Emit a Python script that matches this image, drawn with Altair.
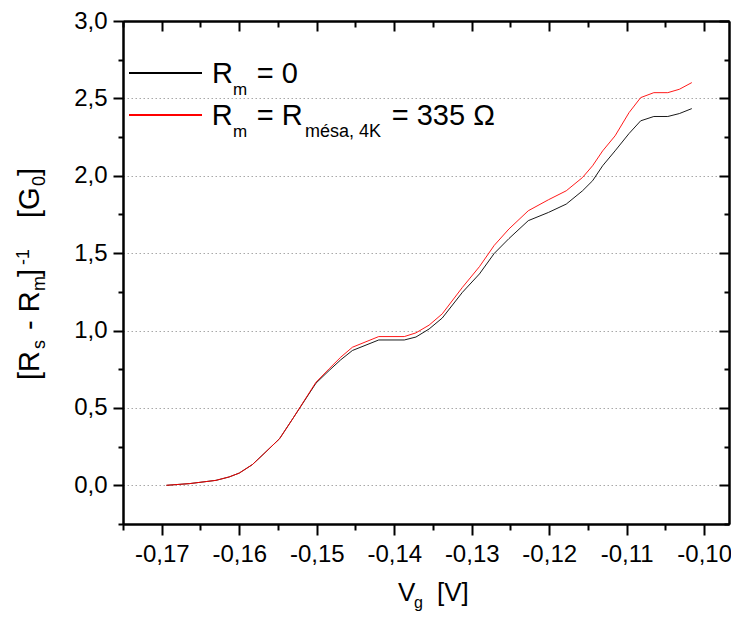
import altair as alt
import pandas as pd

# ---------------- data ----------------
vg = [-0.1694, -0.1664, -0.1630, -0.1613, -0.1600, -0.1583, -0.1568, -0.1548,
      -0.1531, -0.1516, -0.1501, -0.1484, -0.1469, -0.1454, -0.1420, -0.1387,
      -0.1372, -0.1355, -0.1338, -0.1312, -0.1290, -0.1271, -0.1252, -0.1227,
      -0.1201, -0.1178, -0.1157, -0.1144, -0.1131, -0.1115, -0.1097, -0.1082,
      -0.1065, -0.1047, -0.1032, -0.1016]

g_rm0 = [0.000, 0.011, 0.032, 0.054, 0.079, 0.134, 0.205, 0.301, 0.430, 0.545,
         0.660, 0.742, 0.811, 0.871, 0.939, 0.939, 0.958, 1.010, 1.081, 1.247,
         1.366, 1.498, 1.594, 1.710, 1.763, 1.817, 1.903, 1.968, 2.065, 2.161,
         2.273, 2.355, 2.383, 2.383, 2.402, 2.434]

g_rmesa = [0.000, 0.011, 0.032, 0.054, 0.079, 0.134, 0.205, 0.301, 0.430, 0.548,
           0.666, 0.753, 0.828, 0.892, 0.961, 0.961, 0.985, 1.035, 1.108, 1.279,
           1.413, 1.550, 1.656, 1.774, 1.845, 1.903, 1.989, 2.065, 2.161, 2.258,
           2.408, 2.505, 2.537, 2.537, 2.559, 2.602]

x_major = [-0.17, -0.16, -0.15, -0.14, -0.13, -0.12, -0.11, -0.10]
x_minor = [-0.175, -0.165, -0.155, -0.145, -0.135, -0.125, -0.115, -0.105]
y_major = [0.0, 0.5, 1.0, 1.5, 2.0, 2.5, 3.0]
y_minor = [-0.25, 0.25, 0.75, 1.25, 1.75, 2.25, 2.75]

x_domain = [-0.175, -0.0968]
y_domain = [-0.25, 3.0]

# ---------------- layout / style ----------------
FONT = "Liberation Sans"
PAD_L, PAD_T, PAD_R, PAD_B = 115, 13, 2, 88
W, H = 606, 503
OX, OY = 8 + PAD_L, 8 + PAD_T          # page position of the plot origin

df_black = pd.DataFrame({"vg": vg, "g": g_rm0})
df_red = pd.DataFrame({"vg": vg, "g": g_rmesa})

xs = alt.Scale(domain=x_domain, nice=False, zero=False)
ys = alt.Scale(domain=y_domain, nice=False, zero=False)

X_LABEL = "(datum.value < 0 ? '-' : '') + replace(format(abs(datum.value), '.2f'), '.', ',')"
Y_LABEL = "replace(format(datum.value, '.1f'), '.', ',')"


def mk_axis(orient, values, size, labels=False, grid=False, inward=False,
            label_expr="", pad=6):
    kw = dict(orient=orient, values=values, title=None, labels=labels, grid=grid,
              domain=True, domainColor="black", domainWidth=2,
              ticks=True, tickColor="black", tickWidth=2)
    if inward:
        kw["tickSize"] = alt.ExprRef(expr=str(-size))
    else:
        kw["tickSize"] = size
    if labels:
        kw.update(labelExpr=label_expr, labelFont=FONT, labelFontSize=24,
                  labelColor="black", labelPadding=pad, labelFlush=False,
                  labelOverlap=False)
    if grid:
        kw.update(gridColor="#a8a8a8", gridDash=[1.5, 2.5], gridWidth=1)
    return alt.Axis(**kw)


LINE_W = 0.9

black_major = alt.Chart(df_black).mark_line(color="black", strokeWidth=LINE_W).encode(
    x=alt.X("vg:Q", scale=xs,
            axis=mk_axis("bottom", x_major, 11, labels=True, label_expr=X_LABEL, pad=7)),
    y=alt.Y("g:Q", scale=ys,
            axis=mk_axis("left", y_major, 10, labels=True, grid=True, label_expr=Y_LABEL, pad=6)),
)
black_minor = alt.Chart(df_black).mark_line(color="black", strokeOpacity=0).encode(
    x=alt.X("vg:Q", scale=xs, axis=mk_axis("bottom", x_minor, 6)),
    y=alt.Y("g:Q", scale=ys, axis=mk_axis("left", y_minor, 5)),
)
red_major = alt.Chart(df_red).mark_line(color="#ff0000", strokeWidth=LINE_W).encode(
    x=alt.X("vg:Q", scale=xs, axis=mk_axis("top", x_major, 10, inward=True)),
    y=alt.Y("g:Q", scale=ys, axis=mk_axis("right", y_major, 10, inward=True)),
)
red_minor = alt.Chart(df_red).mark_line(color="#ff0000", strokeOpacity=0).encode(
    x=alt.X("vg:Q", scale=xs, axis=mk_axis("top", x_minor, 6, inward=True)),
    y=alt.Y("g:Q", scale=ys, axis=mk_axis("right", y_minor, 5, inward=True)),
)

# legend sample lines (page pixel positions converted to plot-area pixels)
leg_black = alt.Chart(df_black).mark_rule(color="black", strokeWidth=LINE_W).encode(
    x=alt.value(129 - OX), x2=alt.value(202 - OX), y=alt.value(72.7 - OY))
leg_red = alt.Chart(df_red).mark_rule(color="#ff0000", strokeWidth=LINE_W).encode(
    x=alt.value(129 - OX), x2=alt.value(202 - OX), y=alt.value(115 - OY))

# text pieces: (text, page x, page baseline y, font size)
flat_pieces = [
    # legend row 1
    ("R", 212, 83, 29), ("m", 233, 95, 17), ("= 0", 256.7, 83, 29),
    # legend row 2
    ("R", 211.7, 125, 29), ("m", 233, 137, 17), ("= R", 256.7, 125, 29),
    ("mésa, 4K", 305, 137, 18), ("= 335 Ω", 391.7, 125, 29),
    # x title
    ("V", 398, 601, 26), ("g", 414, 608, 16), ("[V]", 437, 601, 26),
]
# rotated y title: (text, page baseline x, page start y, font size)
rot_pieces = [
    ("[R", 38.5, 380, 29), ("s", 45, 349, 18), ("- R", 38.5, 330, 29),
    ("m", 45, 291, 18), ("]", 38.5, 277, 29), ("-1", 29, 265, 18),
    ("[G", 38.5, 218, 29), ("0", 45, 186, 18), ("]", 38.5, 176, 29),
]

flat = pd.DataFrame([(t, x - OX, y - OY, s) for t, x, y, s in flat_pieces],
                    columns=["t", "x", "y", "s"])
rot = pd.DataFrame([(t, x - OX, y - OY, s) for t, x, y, s in rot_pieces],
                   columns=["t", "x", "y", "s"])


def text_layer(df, angle):
    return alt.Chart(df).mark_text(align="left", baseline="alphabetic", font=FONT,
                                   color="black", angle=angle).encode(
        x=alt.X("x:Q", scale=None, axis=None),
        y=alt.Y("y:Q", scale=None, axis=None),
        text="t:N",
        size=alt.Size("s:Q", scale=None, legend=None),
    )


chart = alt.layer(
    black_minor, red_minor, black_major, red_major, leg_black, leg_red,
    text_layer(flat, 0), text_layer(rot, 270),
).resolve_axis(
    x="independent", y="independent"
).properties(
    width=W, height=H,
    autosize=alt.AutoSizeParams(type="none"),
    padding={"left": PAD_L, "top": PAD_T, "right": PAD_R, "bottom": PAD_B},
    background="white",
).configure_view(strokeWidth=0)

chart.save("out.html", embed_options={"renderer": "svg", "actions": False})
